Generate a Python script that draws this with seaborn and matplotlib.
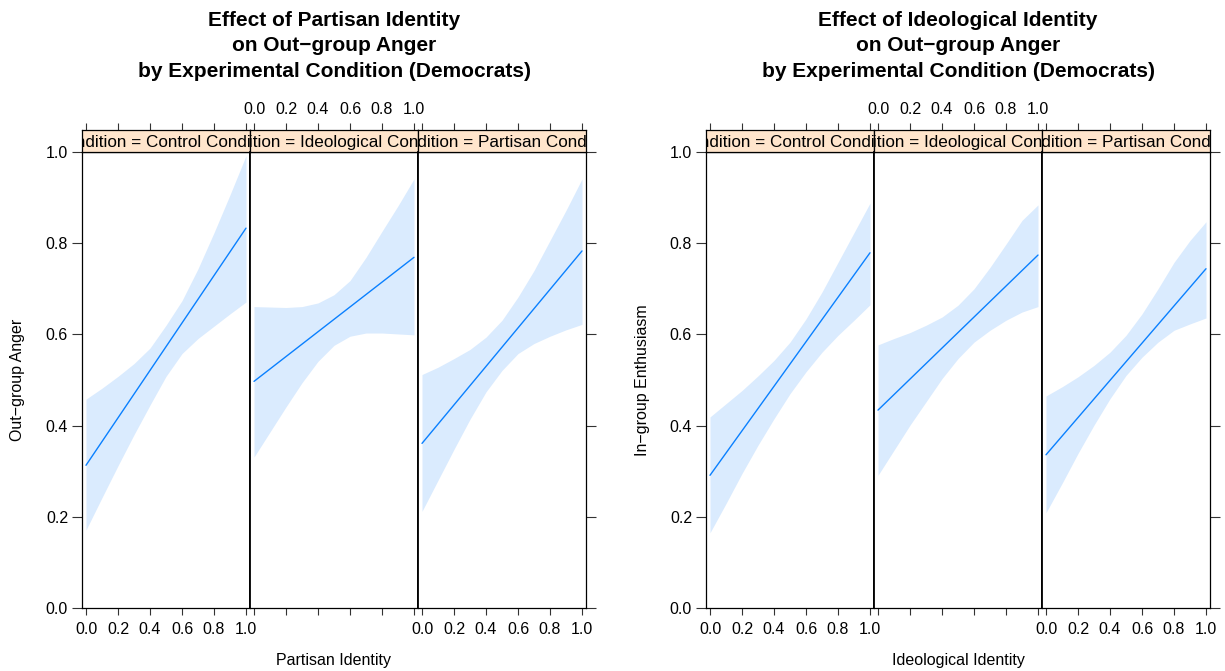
import numpy as np
import pandas as pd
import matplotlib
matplotlib.use("Agg")
import matplotlib.pyplot as plt
import seaborn as sns

sns.set_theme(style="white")
plt.rcParams["font.family"] = ["Liberation Sans", "DejaVu Sans"]

# ---------------- data ----------------
conditions = ["Control Condition", "Ideological Condition", "Partisan Condition"]
x_grid = [0.0, 0.1, 0.2, 0.3, 0.4, 0.5, 0.6, 0.7, 0.8, 0.9, 1.0]
x_ticks = [0.0, 0.2, 0.4, 0.6, 0.8, 1.0]
y_ticks = [0.0, 0.2, 0.4, 0.6, 0.8, 1.0]

# Chart 1: Partisan identity -> out-group anger (fit at x=0 and x=1)
anger_fit_start = [0.313, 0.497, 0.361]
anger_fit_end = [0.833, 0.769, 0.783]
anger_upper_control = [0.458, 0.482, 0.508, 0.536, 0.570, 0.620, 0.674, 0.744, 0.823, 0.906, 0.992]
anger_lower_control = [0.171, 0.242, 0.312, 0.380, 0.445, 0.508, 0.558, 0.591, 0.618, 0.645, 0.671]
anger_upper_ideological = [0.661, 0.660, 0.659, 0.661, 0.669, 0.687, 0.718, 0.769, 0.826, 0.882, 0.941]
anger_lower_ideological = [0.331, 0.386, 0.441, 0.494, 0.541, 0.576, 0.596, 0.603, 0.603, 0.601, 0.599]
anger_upper_partisan = [0.512, 0.528, 0.547, 0.567, 0.594, 0.631, 0.682, 0.740, 0.806, 0.872, 0.941]
anger_lower_partisan = [0.212, 0.280, 0.348, 0.414, 0.474, 0.521, 0.558, 0.580, 0.596, 0.610, 0.622]

# Chart 2: Ideological identity -> in-group enthusiasm
enth_fit_start = [0.291, 0.434, 0.336]
enth_fit_end = [0.779, 0.774, 0.744]
enth_upper_control = [0.419, 0.448, 0.477, 0.509, 0.543, 0.583, 0.634, 0.693, 0.758, 0.823, 0.888]
enth_lower_control = [0.165, 0.229, 0.295, 0.357, 0.415, 0.470, 0.518, 0.561, 0.598, 0.631, 0.665]
enth_upper_ideological = [0.577, 0.591, 0.604, 0.620, 0.638, 0.664, 0.700, 0.747, 0.798, 0.850, 0.884]
enth_lower_ideological = [0.291, 0.346, 0.401, 0.452, 0.503, 0.547, 0.583, 0.609, 0.631, 0.649, 0.661]
enth_upper_partisan = [0.465, 0.485, 0.507, 0.532, 0.561, 0.598, 0.645, 0.700, 0.758, 0.806, 0.847]
enth_lower_partisan = [0.209, 0.273, 0.339, 0.401, 0.459, 0.510, 0.550, 0.583, 0.609, 0.623, 0.636]

charts = [
    dict(title="Effect of Partisan Identity\non Out\u2212group Anger\nby Experimental Condition (Democrats)",
         xlabel="Partisan Identity", ylabel="Out\u2212group Anger",
         fit_start=anger_fit_start, fit_end=anger_fit_end,
         upper=[anger_upper_control, anger_upper_ideological, anger_upper_partisan],
         lower=[anger_lower_control, anger_lower_ideological, anger_lower_partisan]),
    dict(title="Effect of Ideological Identity\non Out\u2212group Anger\nby Experimental Condition (Democrats)",
         xlabel="Ideological Identity", ylabel="In\u2212group Enthusiasm",
         fit_start=enth_fit_start, fit_end=enth_fit_end,
         upper=[enth_upper_control, enth_upper_ideological, enth_upper_partisan],
         lower=[enth_lower_control, enth_lower_ideological, enth_lower_partisan]),
]

# ---------------- layout ----------------
W, H = 1225, 671
fig = plt.figure(figsize=(W / 100, H / 100), dpi=100)

band_color = "#DAEBFE"
line_color = "#0A80FF"
strip_color = "#FFE5CC"
panel_w = 168
group_left = [82, 706]
panel_top, panel_bot = 152, 608
strip_top = 130
fs_tick = 11.5

def fx(px):
    return px / W

def fy(py):
    return 1 - py / H

for g, ch in enumerate(charts):
    for i, cond in enumerate(conditions):
        left = group_left[g] + i * panel_w
        ax = fig.add_axes([fx(left), fy(panel_bot), panel_w / W, (panel_bot - panel_top) / H])
        ax.fill_between(x_grid, ch["lower"][i], ch["upper"][i], color=band_color, lw=0)
        df = pd.DataFrame({"x": [0.0, 1.0], "fit": [ch["fit_start"][i], ch["fit_end"][i]]})
        sns.lineplot(data=df, x="x", y="fit", ax=ax, color=line_color, lw=1.0)
        ax.set_xlim(-0.025, 1.025)
        ax.set_ylim(0, 1)
        ax.set_xticks(x_ticks)
        ax.set_yticks(y_ticks)
        ax.set_xlabel("")
        ax.set_ylabel("")
        ax.set_facecolor("white")
        for sp in ax.spines.values():
            sp.set_color("black")
            sp.set_linewidth(0.9)
        for side in ("left", "right"):
            if (side == "left" and i > 0) or (side == "right" and i < 2):
                ax.spines[side].set_linewidth(1.3)
        ax.tick_params(axis="x", direction="out", length=5, width=0.8, color="#333333",
                       bottom=True, top=False, labelbottom=(i != 1), labeltop=False,
                       labelsize=fs_tick, pad=5, labelcolor="black")
        ax.tick_params(axis="y", direction="out", length=7, width=0.8, color="#333333",
                       left=(i == 0), right=(i == 2), labelleft=(i == 0), labelright=False,
                       labelsize=fs_tick, pad=3, labelcolor="black")
        ax.yaxis.set_major_formatter(matplotlib.ticker.FormatStrFormatter("%.1f"))
        ax.xaxis.set_major_formatter(matplotlib.ticker.FormatStrFormatter("%.1f"))

        # strip
        sx = fig.add_axes([fx(left), fy(panel_top), panel_w / W, (panel_top - strip_top) / H], sharex=ax)
        sx.set_facecolor(strip_color)
        sx.set_yticks([])
        for sp in sx.spines.values():
            sp.set_color("black")
            sp.set_linewidth(0.9)
        sx.tick_params(axis="x", direction="out", length=5, width=0.8, color="#333333",
                       bottom=False, top=True, labelbottom=False, labeltop=(i == 1),
                       labelsize=fs_tick, pad=4, labelcolor="black")
        sx.text(0.5, 0.45, "Condition = " + cond, transform=sx.transAxes, ha="center", va="center",
                fontsize=12.3, color="black", clip_on=True)

    cx = group_left[g] + 1.5 * panel_w
    fig.text(fx(cx), fy(11), ch["title"], ha="center", va="top", fontsize=15,
             fontweight="bold", linespacing=1.42, color="black")
    fig.text(fx(cx), fy(661), ch["xlabel"], ha="center", va="center", fontsize=11.5, color="black")
    fig.text(fx(group_left[g] - 64), fy((panel_top + panel_bot) / 2), ch["ylabel"], ha="center",
             va="center", rotation=90, fontsize=11.5, color="black")

fig.savefig("out.png", dpi=100, facecolor="white")
